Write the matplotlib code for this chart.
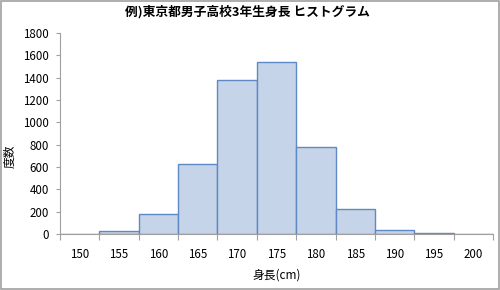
import matplotlib
matplotlib.use("Agg")
import matplotlib.pyplot as plt
from matplotlib.patches import Rectangle
import numpy as np

plt.rcParams['font.family'] = ['Noto Sans CJK JP', 'DejaVu Sans']

categories = ["150", "155", "160", "165", "170", "175", "180", "185", "190", "195", "200"]
counts = [0, 25, 180, 625, 1380, 1540, 780, 220, 35, 5, 0]
yticks = [0, 200, 400, 600, 800, 1000, 1200, 1400, 1600, 1800]
title = "例)東京都男子高校3年生身長 ヒストグラム"
xlabel = "身長(cm)"
ylabel = "度数"

fig = plt.figure(figsize=(5, 2.9), dpi=100)
ax = fig.add_axes([0.12, 0.193, 0.866, 0.693])

x = np.arange(len(categories))
ax.bar(x, counts, width=1.0, color="#C5D4E9", edgecolor="#5F89C4", linewidth=1.0)

ax.set_xlim(-0.5, len(categories) - 0.5)
ax.set_ylim(0, 1800)
ax.set_yticks(yticks)
ax.set_yticklabels([str(v) for v in yticks], fontsize=8.3)

ax.set_xticks(np.arange(-0.5, len(categories), 1.0))
ax.set_xticklabels([])
ax.set_xticks(x, minor=True)
ax.set_xticklabels(categories, minor=True, fontsize=8.3)
ax.tick_params(axis='x', which='major', length=4, color="#A0A0A0", direction='out')
ax.tick_params(axis='x', which='minor', length=0, pad=10)
ax.tick_params(axis='y', length=3, color="#A0A0A0", direction='out', pad=5)

for s in ["top", "right"]:
    ax.spines[s].set_visible(False)
for s in ["left", "bottom"]:
    ax.spines[s].set_color("#A0A0A0")

fig.text(0.494, 0.958, title, ha='center', va='center', fontsize=9.2, fontweight='bold')
fig.text(0.553, 0.052, xlabel, ha='center', va='center', fontsize=8.5)
fig.text(0.02, 0.46, ylabel, ha='center', va='center', fontsize=8.5, rotation=90)

fig.patches.append(Rectangle((0.002, 0.003), 0.995, 0.993, transform=fig.transFigure,
                             fill=False, edgecolor="#A0A0A0", linewidth=1.2))

fig.savefig("out.png", dpi=100)
